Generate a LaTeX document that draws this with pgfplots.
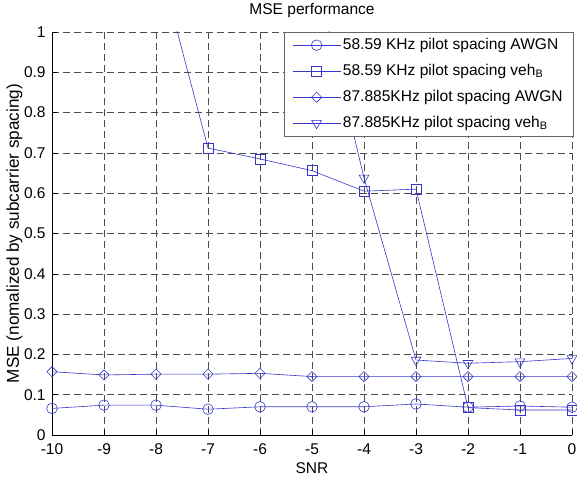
\documentclass[border=0pt]{standalone}
\usepackage{fontspec}
\setmainfont{Liberation Sans}
\usepackage{pgfplots}
\pgfplotsset{compat=1.18}
\definecolor{mblue}{RGB}{55,55,205}
\newcommand{\ff}{\fontsize{15.6}{18}\selectfont}
\begin{document}
\ff
\begin{tikzpicture}
\begin{axis}[
  at={(0,0)}, anchor=south west,
  scale only axis, width=520bp, height=403bp,
  xmin=-10, xmax=0, ymin=0, ymax=1,
  axis x line=bottom, axis y line=left,
  axis line style={-, black, line width=0.5bp},
  xtick={-10,-9,-8,-7,-6,-5,-4,-3,-2,-1,0},
  ytick={0,0.1,0.2,0.3,0.4,0.5,0.6,0.7,0.8,0.9,1},
  yticklabels={0,0.1,0.2,0.3,0.4,0.5,0.6,0.7,0.8,0.9,1},
  tick align=inside, major tick length=5bp,
  tick style={black, line width=0.5bp},
  grid=major,
  major grid style={black!70, dash pattern=on 7bp off 4bp, line width=0.5bp},
  /pgf/number format/assume math mode=true,
  ticklabel style={font=\ff},
  xticklabel style={yshift=-3bp},
  yticklabel style={xshift=-1bp},
  title={MSE performance},
  title style={at={(axis description cs:0.5,1.0298)}, anchor=base, font=\ff},
  xlabel={SNR},
  xlabel style={at={(axis description cs:0.5,-0.0943)}, anchor=base, font=\ff},
  ylabel={MSE (nomalized by subcarrier spacing)},
  ylabel style={at={(axis description cs:-0.0635,0.5)}, anchor=base, font=\fontsize{17.2}{20}\selectfont},
  legend cell align=left,
  legend style={at={(1,1)}, anchor=north east, xshift=1.3bp, draw=black!60, fill=white,
    font=\ff, row sep=6bp, inner xsep=8.5bp, inner ysep=3bp,
    nodes={inner sep=2bp, text height=12bp, text depth=4bp}},
  legend image code/.code={\draw[mark repeat=2, mark phase=2] plot coordinates {(0bp,0bp) (24bp,0bp) (48bp,0bp)};},
]
\addplot[mblue, line width=0.6bp, mark=o, mark size=5.3bp, mark options={solid}] coordinates {
(-10,0.066) (-9,0.074) (-8,0.074) (-7,0.064) (-6,0.070) (-5,0.070) (-4,0.070) (-3,0.077) (-2,0.069) (-1,0.072) (0,0.069)};
\addlegendentry{58.59 KHz pilot spacing AWGN}
\addplot[mblue, line width=0.6bp, mark=square, mark size=5bp, mark options={solid}] coordinates {
(-10,1.9) (-9,1.6) (-8,1.2) (-7,0.712) (-6,0.685) (-5,0.656) (-4,0.605) (-3,0.610) (-2,0.068) (-1,0.062) (0,0.062)};
\addlegendentry{58.59 KHz pilot spacing veh\textsubscript{B}}
\addplot[mblue, line width=0.6bp, mark=square, mark size=3.6bp, mark options={solid, rotate=45}] coordinates {
(-10,0.157) (-9,0.149) (-8,0.151) (-7,0.151) (-6,0.153) (-5,0.145) (-4,0.145) (-3,0.145) (-2,0.145) (-1,0.145) (0,0.145)};
\addlegendentry{87.885KHz pilot spacing AWGN}
\addplot[mblue, line width=0.6bp, mark=triangle, mark size=5.6bp, mark options={solid, rotate=180}] coordinates {
(-10,2.4) (-9,2.2) (-8,2.0) (-7,1.8) (-6,1.5) (-5,1.18) (-4,0.638) (-3,0.186) (-2,0.178) (-1,0.182) (0,0.190)};
\addlegendentry{87.885KHz pilot spacing veh\textsubscript{B}}
\end{axis}
\pgfresetboundingbox
\useasboundingbox (-52bp,-44bp) rectangle (525bp,435bp);
\end{tikzpicture}
\end{document}
